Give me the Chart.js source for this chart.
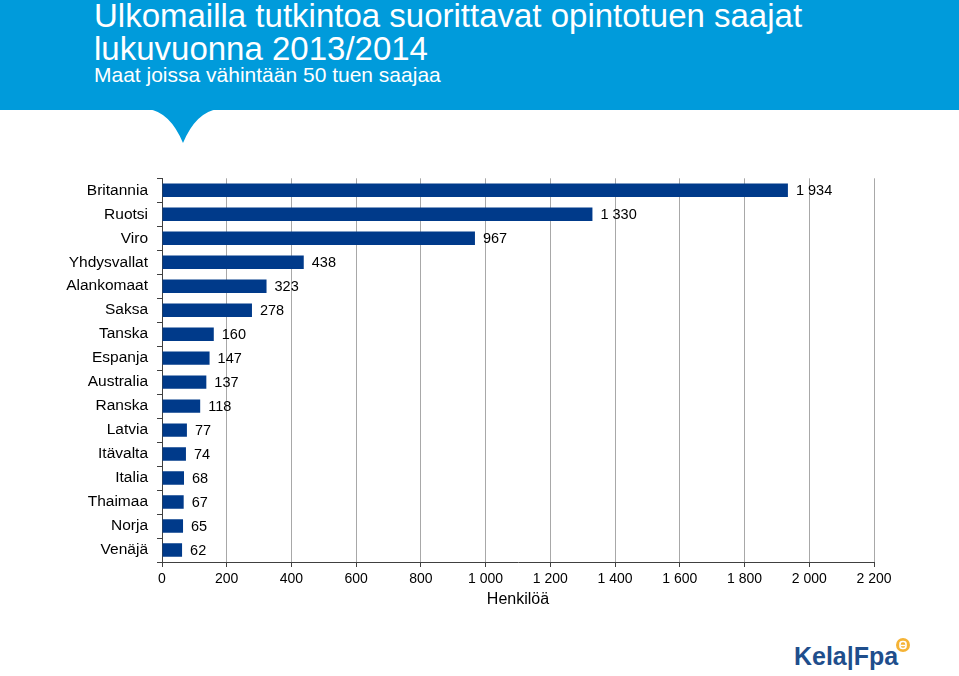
<!DOCTYPE html>
<html><head><meta charset="utf-8">
<script src="https://cdn.jsdelivr.net/npm/chart.js@4/dist/chart.umd.min.js"></script>
<style>
html,body{margin:0;padding:0;background:#fff;width:959px;height:676px;overflow:hidden;font-family:"Liberation Sans",Arial,sans-serif;}
#hdr{position:absolute;left:0;top:0;width:959px;height:110px;background:#009BDB;}
#notch{position:absolute;left:0;top:0;}
.t1{position:absolute;left:94px;color:#fff;font-size:33px;line-height:38px;white-space:nowrap;transform-origin:0 0;}
.t2{position:absolute;left:94px;color:#fff;font-size:21px;line-height:24px;white-space:nowrap;transform-origin:0 0;}
#wrap{position:absolute;left:0;top:160px;width:910px;height:460px;}
#logo{position:absolute;left:794px;top:643px;color:#1F4E8C;font-weight:bold;font-size:26px;line-height:26px;white-space:nowrap;transform:scaleX(0.96);transform-origin:0 0;}
</style></head><body>
<div id="hdr"></div>
<svg id="notch" width="959" height="160"><path d="M148,109 Q170,112 183,143 Q196,112 218,109 Z" fill="#009BDB"/></svg>
<div class="t1" style="top:-3px">Ulkomailla tutkintoa suorittavat opintotuen saajat</div>
<div class="t1" style="top:30px">lukuvuonna 2013/2014</div>
<div class="t2" style="top:63px">Maat joissa vähintään 50 tuen saajaa</div>
<div id="wrap"><canvas id="c"></canvas></div>
<div id="logo">Kela|Fpa</div>
<svg style="position:absolute;left:895px;top:637px" width="16" height="16"><circle cx="8" cy="8" r="7" fill="#F5B335"/><rect x="5" y="4.5" width="6" height="7" rx="2.5" fill="none" stroke="#fff" stroke-width="1.6"/><path d="M5.5,8.5 L10.5,8.5" stroke="#fff" stroke-width="1.4"/></svg>
<script>
const categories = ["Britannia","Ruotsi","Viro","Yhdysvallat","Alankomaat","Saksa","Tanska","Espanja","Australia","Ranska","Latvia","Itävalta","Italia","Thaimaa","Norja","Venäjä"];
const values = [1934,1330,967,438,323,278,160,147,137,118,77,74,68,67,65,62];
const xMax = 2200;
const xStep = 200;
const axisTitle = "Henkilöä";

function fmt(v){return String(v).replace(/\B(?=(\d{3})+(?!\d))/g,' ');}
const FF = '"Liberation Sans", Arial, sans-serif';

const labelPlugin = {
  id:'vals',
  afterDatasetsDraw(chart){
    const ctx = chart.ctx;
    const meta = chart.getDatasetMeta(0);
    ctx.save();
    ctx.font = '14.5px ' + FF;
    ctx.fillStyle = '#000';
    ctx.textBaseline = 'middle';
    ctx.textAlign = 'left';
    meta.data.forEach((bar,i)=>{
      ctx.fillText(fmt(values[i]), bar.x + 8, bar.y + 1);
    });
    ctx.restore();
  }
};

new Chart(document.getElementById('c'),{
  type:'bar',
  data:{labels:categories,datasets:[{data:values,backgroundColor:'#003A8A',borderWidth:0,barPercentage:0.56,categoryPercentage:1}]},
  options:{
    indexAxis:'y',
    responsive:true,maintainAspectRatio:false,animation:false,
    layout:{padding:{top:7,right:36,left:0,bottom:0}},
    plugins:{legend:{display:false},tooltip:{enabled:false}},
    scales:{
      x:{min:0,max:xMax,
        ticks:{stepSize:xStep,color:'#000',font:{size:14,family:FF},padding:4,maxRotation:0,callback:(v)=>fmt(v)},
        grid:{color:'#A8A8A8',tickColor:'#404040',tickLength:5,lineWidth:1},
        border:{color:'#404040',width:1},
        title:{display:true,text:axisTitle,color:'#000',font:{size:16,family:FF},padding:{top:2,bottom:11}},
        afterFit(s){s.height=58;}
      },
      y:{
        ticks:{color:'#000',font:{size:15.5,family:FF},padding:9,autoSkip:false},
        grid:{drawOnChartArea:false,tickColor:'#404040',tickLength:5,offset:true},
        border:{color:'#404040',width:1},
        afterFit(s){s.width=162;}
      }
    }
  },
  plugins:[labelPlugin]
});
</script>
</body></html>
